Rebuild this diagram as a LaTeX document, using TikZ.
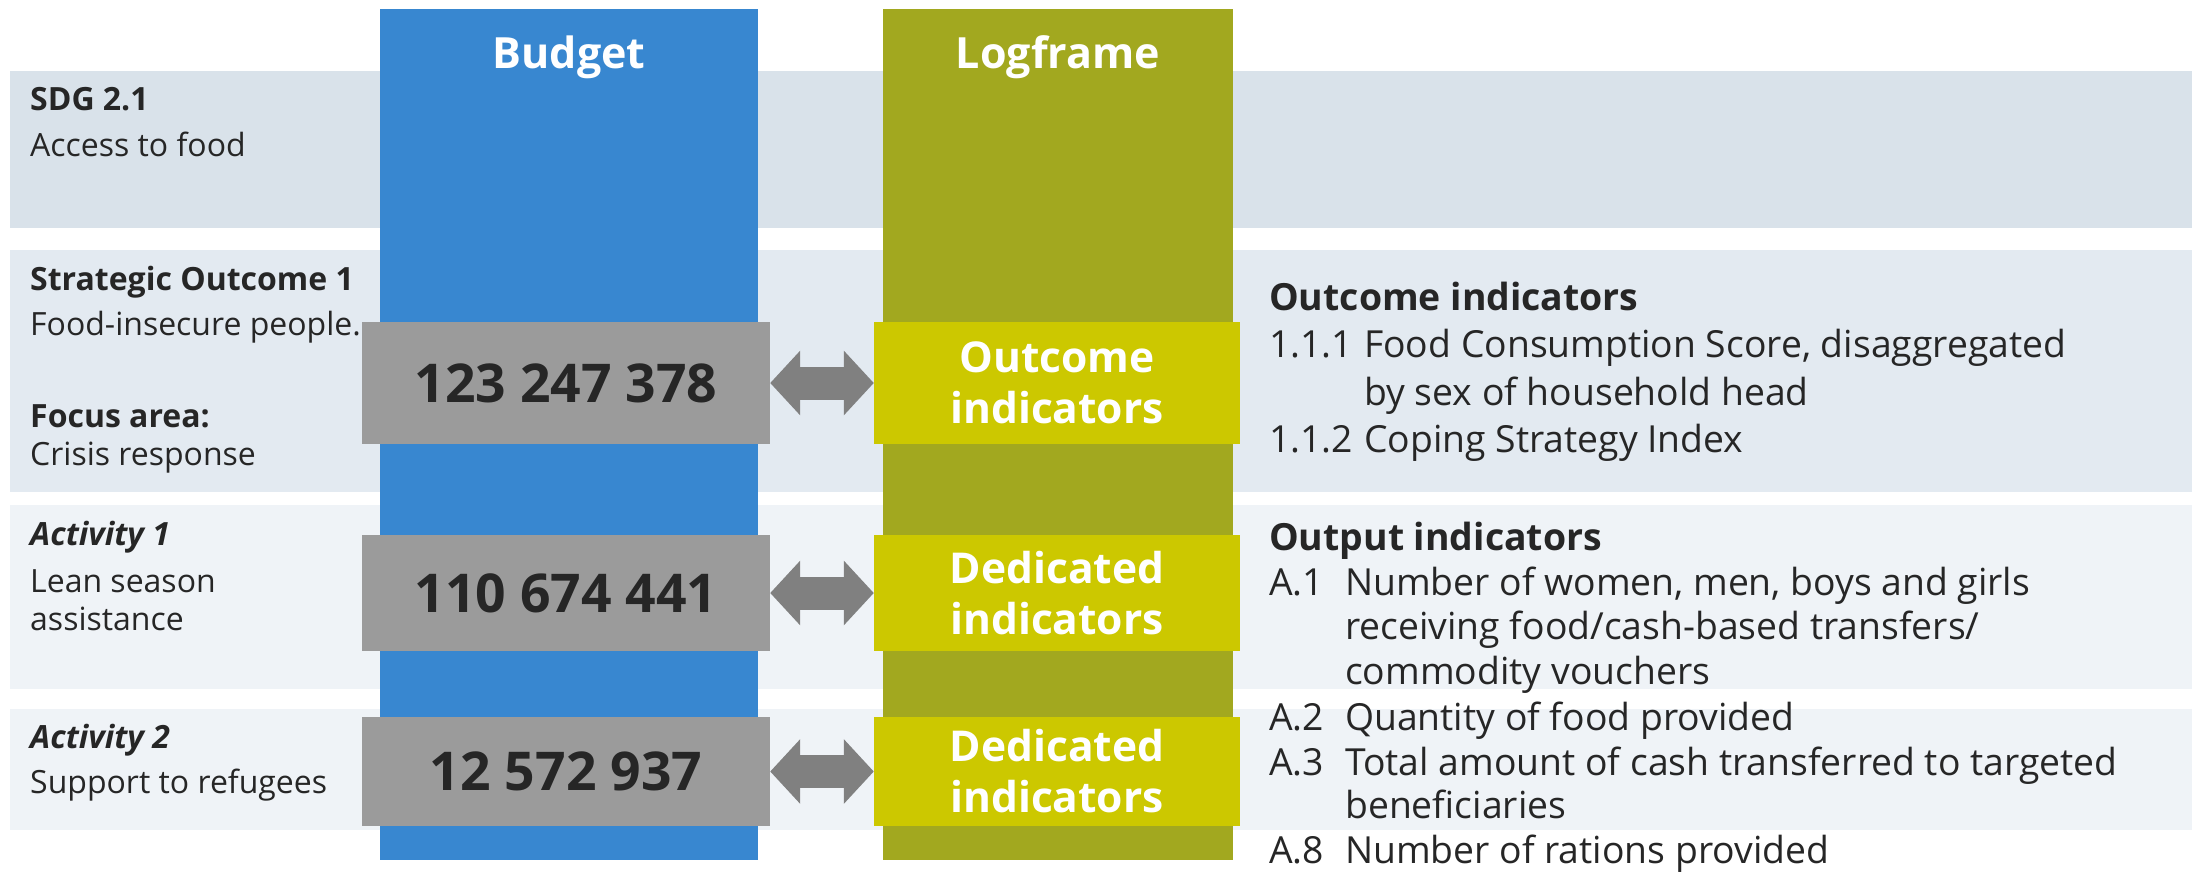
\documentclass[tikz,border=0pt]{standalone}
\usepackage{fontspec}
\setmainfont{Open Sans}
\usepackage{xcolor}
\usetikzlibrary{positioning,arrows.meta}

\definecolor{budgetblue}{HTML}{3887D0}
\definecolor{logolive}{HTML}{A2A81F}
\definecolor{indyellow}{HTML}{CCC800}
\definecolor{sumgray}{HTML}{9B9B9B}
\definecolor{arrowgray}{HTML}{808080}
\definecolor{sdgband}{HTML}{D9E2EA}
\definecolor{soband}{HTML}{E3EAF1}
\definecolor{actband}{HTML}{EFF3F7}
\definecolor{inktext}{HTML}{262626}

\tikzset{
  colhead/.style={anchor=base, inner sep=0pt, text=white,
    font=\bfseries\fontsize{43}{50}\selectfont},
  amount/.style={fill=sumgray, inner sep=0pt, minimum width=408pt,
    text=inktext, font=\bfseries\fontsize{53.5}{60}\selectfont},
  indbox/.style={fill=indyellow, inner sep=0pt, minimum width=366pt,
    text=white, align=center, font=\bfseries\fontsize{42.5}{51}\selectfont},
  link/.style={draw=arrowgray, line width=33pt,
    {Triangle[length=30pt,width=63pt]}-{Triangle[length=30pt,width=63pt]}},
  lefttxt/.style={anchor=base west, inner sep=0pt, text=inktext,
    font=\fontsize{32}{38}\selectfont},
  lefthead/.style={lefttxt, font=\bfseries\fontsize{32}{38}\selectfont},
  actihead/.style={lefttxt, font=\bfseries\itshape\fontsize{32}{38}\selectfont},
  righttxt/.style={anchor=base west, inner sep=0pt, text=inktext,
    font=\fontsize{37.3}{45}\selectfont},
  righthead/.style={righttxt, font=\bfseries\fontsize{37.4}{45}\selectfont}
}

\begin{document}
\begin{tikzpicture}[x=1pt, y=-1pt]
  \useasboundingbox (0,0) rectangle (2195,871);

  % row bands
  \fill[sdgband] (10,71) rectangle (2192,228);
  \fill[soband] (10,250) rectangle (2192,492);
  \fill[actband] (10,505) rectangle (2192,689);
  \fill[actband] (10,709) rectangle (2192,830);

  % the two columns
  \fill[budgetblue] (380,9) rectangle (758,860);
  \fill[logolive] (883,9) rectangle (1233,860);
  \node[colhead] (budget) at (569,68) {Budget};
  \node[colhead] (logframe) at (1058,68) {Logframe};

  % amounts and indicators
  \node[amount, minimum height=122pt] (g1) at (566,383) {123 247 378};
  \node[amount, minimum height=116pt] (g2) at (566,593) {110 674 441};
  \node[amount, minimum height=109pt] (g3) at (566,771.5) {12 572 937};
  \node[indbox, minimum height=122pt] (y1) at (1057,383) {Outcome\\indicators};
  \node[indbox, minimum height=116pt] (y2) at (1057,593) {Dedicated\\indicators};
  \node[indbox, minimum height=109pt] (y3) at (1057,771.5) {Dedicated\\indicators};

  \foreach \i in {1,2,3}
    \draw[link] (g\i.east) -- (g\i.east -| y\i.west);

  % left side
  \node[lefthead] (sdg) at (30,110) {SDG 2.1};
  \node[lefttxt] (sdgtxt) at (30,156) {Access to food};
  \node[lefthead] (so) at (30,290) {Strategic Outcome 1};
  \node[lefttxt] (sotxt) at (30,335) {Food-insecure people.};
  \node[lefthead] (focus) at (30,427) {Focus area:};
  \node[lefttxt] (focustxt) at (30,465) {Crisis response};
  \node[actihead] (act1) at (30,545) {Activity 1};
  \node[lefttxt] (act1a) at (30,592) {Lean season};
  \node[lefttxt] (act1b) at (30,630) {assistance};
  \node[actihead] (act2) at (30,748) {Activity 2};
  \node[lefttxt] (act2a) at (30,793) {Support to refugees};

  % right side
  \node[righthead] (outcome) at (1269,310) {Outcome indicators};
  \foreach \yy/\lbl/\txt [count=\i] in {
      357/1.1.1/{Food Consumption Score, disaggregated},
      405/{}/{by sex of household head},
      452/1.1.2/{Coping Strategy Index}}
  {
    \node[righttxt] (ocl\i) at (1269,\yy) {\lbl};
    \node[righttxt] (oct\i) at (1364,\yy) {\txt};
  }
  \node[righthead] (output) at (1269,550) {Output indicators};
  \foreach \yy/\lbl/\txt [count=\i] in {
      595/A.1/{Number of women, men, boys and girls},
      639/{}/{receiving food/cash-based transfers/},
      684/{}/{commodity vouchers},
      730/A.2/{Quantity of food provided},
      775/A.3/{Total amount of cash transferred to targeted},
      818/{}/{beneficiaries},
      863/A.8/{Number of rations provided}}
  {
    \node[righttxt] (opl\i) at (1269,\yy) {\lbl};
    \node[righttxt] (opt\i) at (1345,\yy) {\txt};
  }
\end{tikzpicture}
\end{document}
